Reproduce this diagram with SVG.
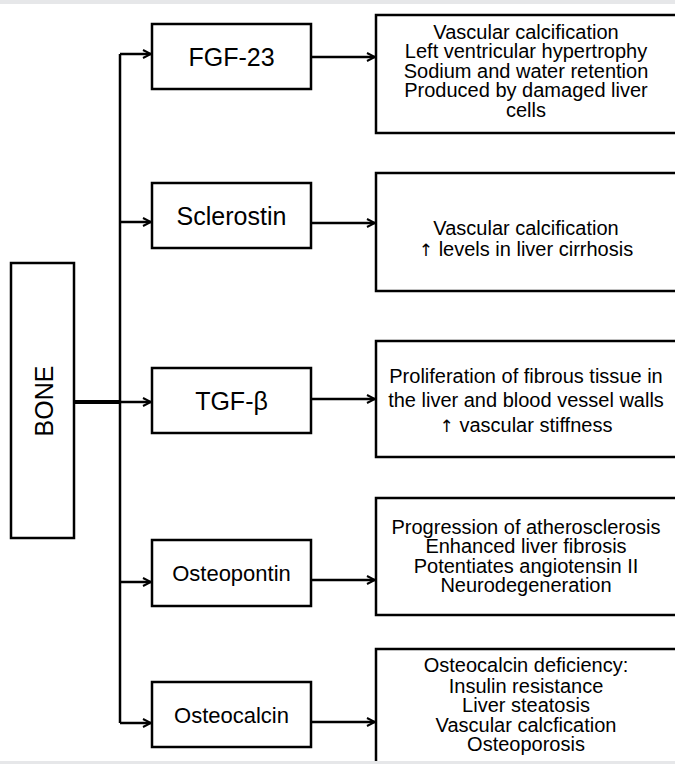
<svg xmlns="http://www.w3.org/2000/svg" width="675" height="764" viewBox="0 0 675 764">
<style>
.box{fill:#fff;stroke:#000;stroke-width:2.5}
.lbl{font-family:"Liberation Sans",Arial,sans-serif;font-size:25px;text-anchor:middle;fill:#000}
.sm{font-size:22px}
.txt{font-family:"Liberation Sans",Arial,sans-serif;font-size:20px;text-anchor:middle;fill:#000}
.ar{font-family:"DejaVu Sans","Liberation Sans",sans-serif;font-size:17px;fill:#000}
.ln{fill:none;stroke:#000;stroke-width:2.5}
</style>
<defs>
<marker id="ah" viewBox="0 0 10 10" refX="9" refY="5" markerWidth="10" markerHeight="10" markerUnits="userSpaceOnUse" orient="auto">
<path d="M1,1 L9,5 L1,9" fill="none" stroke="#000" stroke-width="2"/>
</marker>
</defs>
<rect x="0" y="0" width="675" height="764" fill="#fff"/>
<rect x="0" y="0" width="675" height="4" fill="#e6e7e9"/>
<g id="connectors">
<path class="ln" d="M120,54 V723"/>
<path d="M74,402 H120" fill="none" stroke="#000" stroke-width="4"/>
<path class="ln" d="M120,54 H151" marker-end="url(#ah)"/>
<path class="ln" d="M120,222 H151" marker-end="url(#ah)"/>
<path class="ln" d="M120,402 H151" marker-end="url(#ah)"/>
<path class="ln" d="M120,582 H151" marker-end="url(#ah)"/>
<path class="ln" d="M120,723 H151" marker-end="url(#ah)"/>
<path class="ln" d="M311,57 H375" marker-end="url(#ah)"/>
<path class="ln" d="M311,223 H375" marker-end="url(#ah)"/>
<path class="ln" d="M311,399 H375" marker-end="url(#ah)"/>
<path class="ln" d="M311,580 H375" marker-end="url(#ah)"/>
<path class="ln" d="M311,722 H375" marker-end="url(#ah)"/>
</g>
<g id="bone">
<rect class="box" x="11" y="263" width="63" height="275"/>
<text class="lbl" transform="translate(43.5,401) rotate(-90)" y="9">BONE</text>
</g>
<g id="fgf23">
<rect class="box" x="152" y="24" width="159" height="65"/>
<text class="lbl" x="231.5" y="65.5">FGF-23</text>
</g>
<g id="sclerostin">
<rect class="box" x="152" y="183" width="159" height="65"/>
<text class="lbl" x="231.5" y="224.5">Sclerostin</text>
</g>
<g id="tgfb">
<rect class="box" x="152" y="368" width="159" height="65"/>
<text class="lbl" x="231.5" y="409.5">TGF-β</text>
</g>
<g id="osteopontin">
<rect class="box" x="152" y="540" width="159" height="66"/>
<text class="lbl sm" x="231.5" y="581">Osteopontin</text>
</g>
<g id="osteocalcin">
<rect class="box" x="152" y="682" width="159" height="65"/>
<text class="lbl sm" x="231.5" y="722.5">Osteocalcin</text>
</g>
<g id="fgf23-effects">
<rect class="box" x="376" y="15" width="310" height="118"/>
<text class="txt" x="526" y="38.5">Vascular calcification</text>
<text class="txt" x="526" y="58">Left ventricular hypertrophy</text>
<text class="txt" x="526" y="77.5">Sodium and water retention</text>
<text class="txt" x="526" y="97">Produced by damaged liver</text>
<text class="txt" x="526" y="116.5">cells</text>
</g>
<g id="sclerostin-effects">
<rect class="box" x="376" y="173" width="310" height="118"/>
<text class="txt" x="526" y="235">Vascular calcification</text>
<text class="txt" x="526" y="256"><tspan class="ar">↑</tspan> levels in liver cirrhosis</text>
</g>
<g id="tgfb-effects">
<rect class="box" x="376" y="341" width="310" height="116"/>
<text class="txt" x="526" y="383">Proliferation of fibrous tissue in</text>
<text class="txt" x="526" y="407">the liver and blood vessel walls</text>
<text class="txt" x="526" y="432"><tspan class="ar">↑</tspan> vascular stiffness</text>
</g>
<g id="osteopontin-effects">
<rect class="box" x="376" y="498" width="310" height="117"/>
<text class="txt" x="526" y="533.5">Progression of atherosclerosis</text>
<text class="txt" x="526" y="553">Enhanced liver fibrosis</text>
<text class="txt" x="526" y="572.5">Potentiates angiotensin II</text>
<text class="txt" x="526" y="592">Neurodegeneration</text>
</g>
<g id="osteocalcin-effects">
<rect class="box" x="376" y="649" width="310" height="140"/>
<text class="txt" x="526" y="672">Osteocalcin deficiency:</text>
<text class="txt" x="526" y="692.5">Insulin resistance</text>
<text class="txt" x="526" y="712">Liver steatosis</text>
<text class="txt" x="526" y="731.5">Vascular calcfication</text>
<text class="txt" x="526" y="751">Osteoporosis</text>
</g>
<rect x="0" y="761" width="675" height="3" fill="#e6e7e9"/>
</svg>
